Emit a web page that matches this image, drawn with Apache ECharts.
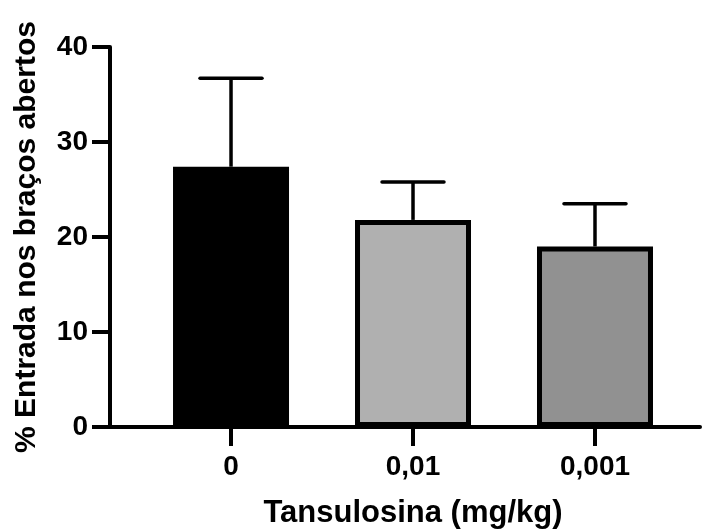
<!DOCTYPE html>
<html><head><meta charset="utf-8">
<script src="https://cdn.jsdelivr.net/npm/echarts@6/dist/echarts.min.js"></script>
<style>html,body{margin:0;padding:0;background:#fff}#c{width:707px;height:531px}</style>
</head><body><div id="c"></div>
<script>
const categories = ['0', '0,01', '0,001'];
const means = [27.4, 21.8, 19.0];
const errTops = [36.7, 25.8, 23.5];
const barColors = ['#000000', '#b0b0b0', '#919191'];
const yTicks = [0, 10, 20, 30, 40];

const font = 'Liberation Sans, Arial, sans-serif';
const chart = echarts.init(document.getElementById('c'));
const barData = means.map((v, i) => ({ value: [i, v], itemStyle: { color: barColors[i] } }));
const errData = means.map((v, i) => [i, v, errTops[i]]);

chart.setOption({
  animation: false,
  grid: { left: 110, right: 7, top: 47, bottom: 104, outerBoundsMode: 'none', containLabel: false },
  xAxis: {
    type: 'value', min: -0.665, max: 2.577,
    splitLine: { show: false },
    axisLine: { show: true, onZero: false, lineStyle: { color: '#000', width: 4 } },
    axisTick: { show: true, customValues: [0, 1, 2], length: 19, lineStyle: { color: '#000', width: 4 } },
    axisLabel: { customValues: [0, 1, 2], margin: 26, formatter: v => categories[Math.round(v)],
      color: '#000', fontFamily: font, fontWeight: 'bold', fontSize: 28 },
    name: 'Tansulosina (mg/kg)', nameLocation: 'middle', nameGap: 71,
    nameTextStyle: { color: '#000', fontFamily: font, fontWeight: 'bold', fontSize: 31, padding: [0, 0, 0, 16] }
  },
  yAxis: {
    type: 'value', min: 0, max: 40, interval: 10,
    splitLine: { show: false },
    axisLine: { show: true, onZero: false, lineStyle: { color: '#000', width: 4 } },
    axisTick: { show: true, length: 18, lineStyle: { color: '#000', width: 4 } },
    axisLabel: { margin: 22, color: '#000', fontFamily: font, fontWeight: 'bold', fontSize: 28,
      formatter: v => yTicks.includes(v) ? String(v) : '' },
    name: '% Entrada nos braços abertos', nameLocation: 'middle', nameGap: 68,
    nameTextStyle: { color: '#000', fontFamily: font, fontWeight: 'bold', fontSize: 30 }
  },
  series: [
    {
      type: 'bar', data: barData, barWidth: 116, z: 2,
      itemStyle: { borderColor: '#000', borderWidth: 5 }
    },
    {
      type: 'custom', data: errData, z: 1,
      renderItem: function (params, api) {
        const x = api.value(0);
        const base = api.coord([x, api.value(1)]);
        const top = api.coord([x, api.value(2)]);
        const hw = 31;
        return {
          type: 'group',
          children: [
            { type: 'line', shape: { x1: base[0], y1: base[1], x2: top[0], y2: top[1] },
              style: { stroke: '#000', lineWidth: 3.5 } },
            { type: 'line', shape: { x1: top[0] - hw, y1: top[1], x2: top[0] + hw, y2: top[1] },
              style: { stroke: '#000', lineWidth: 3.5, lineCap: 'round' } }
          ]
        };
      }
    }
  ]
});
</script></body></html>
